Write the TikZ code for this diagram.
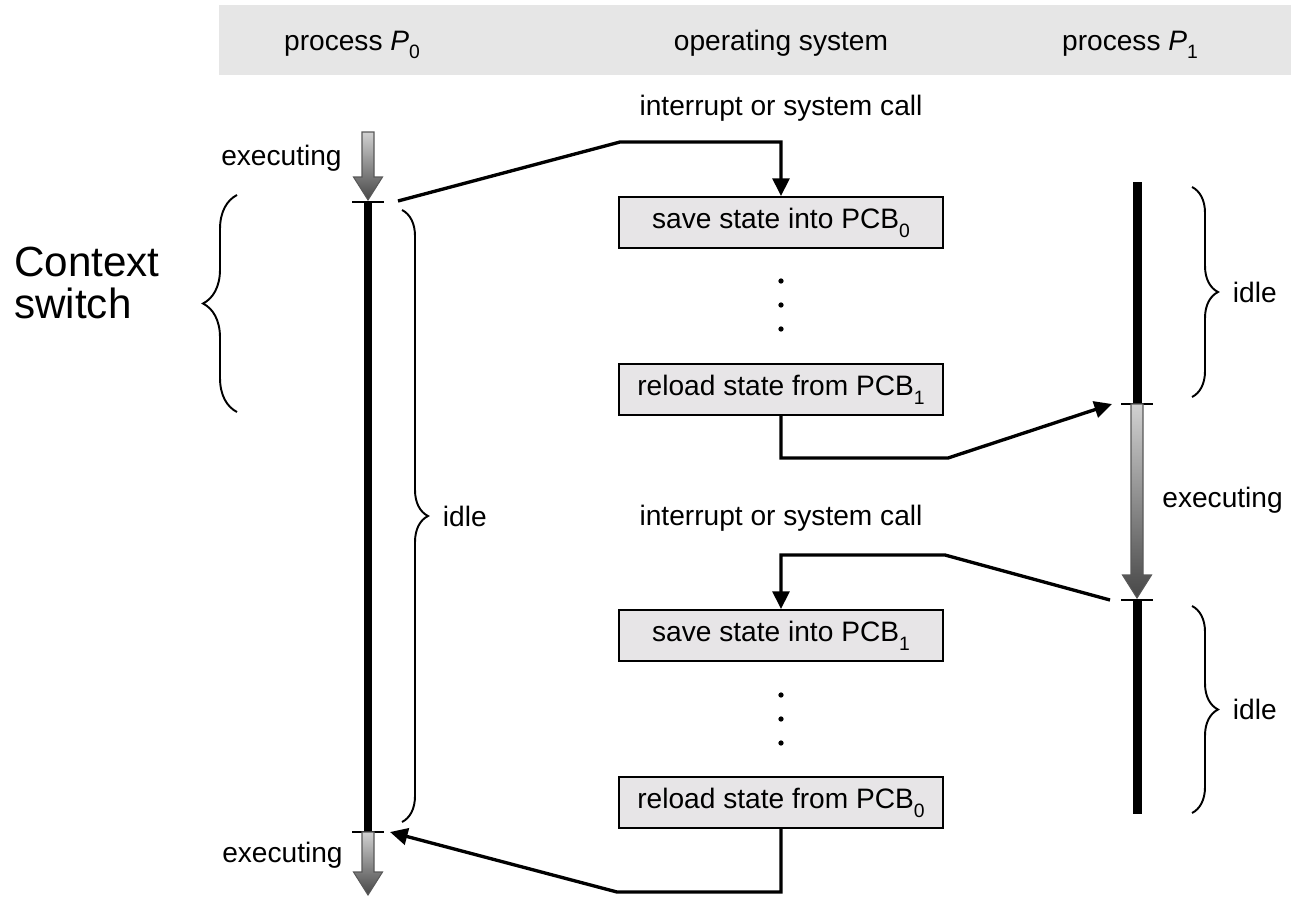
\documentclass[tikz,border=0pt]{standalone}
\usepackage{fontspec}
\setmainfont{Liberation Sans}
\usetikzlibrary{arrows.meta,
                decorations.pathreplacing,
                positioning}

\definecolor{bandgray}{RGB}{230,230,230}
\definecolor{boxgray}{RGB}{231,229,231}
\newcommand{\lowidx}[1]{\raisebox{-0.6ex}{\fontsize{11}{11}\selectfont #1}}

\begin{document}
\begin{tikzpicture}[
        x=0.2mm, y=-0.2mm,
        font=\fontsize{16}{19}\selectfont,
        state box/.style={
            rectangle,
            draw,
            line width=1.1pt,
            fill=boxgray,
            minimum width=64.8mm,
            minimum height=10.2mm,
            inner sep=0pt
        },
        link/.style={-{Triangle[length=10pt,width=9.5pt]},line width=1.9pt},
        idle bar/.style={line width=5.1pt},
        tickmark/.style={line width=1.2pt},
        run arrow/.style={
            top color=black!18,
            bottom color=black!72,
            draw=black!65,
            line width=0.6pt
        },
        curly/.style={
            decorate,
            decoration={brace,amplitude=#1},
            line width=1.1pt
        },
        txt/.style={inner sep=0pt}
    ]
    \useasboundingbox (0,0) rectangle (1291,896);

    % header band
    \fill[bandgray] (219,5) rectangle (1291,75);
    \node[txt,anchor=base] (hdrzero) at (352,50) {process \textit{P}\lowidx{0}};
    \node[txt,anchor=base] (hdros) at (781,50) {operating system};
    \node[txt,anchor=base] (hdrone) at (1130,50) {process \textit{P}\lowidx{1}};

    % time lines of the two processes
    \coordinate (p0top) at (368,202);
    \coordinate (p0bot) at (368,832);
    \coordinate (p1top) at (1137,182);
    \coordinate (p1run) at (1137,404);
    \coordinate (p1stop) at (1137,600);
    \coordinate (p1end) at (1137,814);

    \draw[idle bar] (p0top) -- (p0bot);
    \draw[idle bar] (p1top) -- (p1run);
    \draw[idle bar] (p1stop) -- (p1end);
    \foreach \c in {p0top,p0bot,p1run,p1stop}
        \draw[tickmark] ([xshift=-3.2mm]\c) -- ([xshift=3.2mm]\c);

    % executing arrows
    \foreach \x/\ya/\yb in {368/132/200,368/832/895,1137/404/598} {
        \shade[run arrow] (\x-6,\ya) -- (\x+6,\ya) -- (\x+6,\yb-23) -- (\x+14.5,\yb-23)
            -- (\x,\yb) -- (\x-14.5,\yb-23) -- (\x-6,\yb-23) -- cycle;
    }
    \node[txt,anchor=base east] (exzero) at (342,165) {executing};
    \node[txt,anchor=base east] (exzerob) at (343,862) {executing};
    \node[txt,anchor=base west] (exone) at (1162,507) {executing};

    % operating system boxes
    \node[state box] (save0) at (781,222.5) {save state into PCB\lowidx{0}};
    \node[state box] (reload1) at (781,389.5) {reload state from PCB\lowidx{1}};
    \node[state box] (save1) at (781,635.5) {save state into PCB\lowidx{1}};
    \node[state box] (reload0) at (781,802.5) {reload state from PCB\lowidx{0}};
    \foreach \y in {281,305,329,695,719,743}
        \fill (781,\y) circle (1.5pt);

    \node[txt,anchor=base] (irqtxt0) at (781,115) {interrupt or system call};
    \node[txt,anchor=base] (irqtxt1) at (781,525) {interrupt or system call};

    % switches
    \coordinate (irq0) at (398,201);
    \coordinate (run1) at (1112,404);
    \coordinate (irq1) at (1110,600);
    \coordinate (run0) at (390,832);
    \draw[link] (irq0) -- (620,142) -| (save0.north);
    \draw[link] (reload1.south) |- (948,458) -- (run1);
    \draw[link] (irq1) -- (945,555) -| (save1.north);
    \draw[link] (reload0.south) |- (617,892) -- (run0);

    % braces
    \draw[curly=6.8mm] (237,412) -- (237,195);
    \node[txt,anchor=west,align=left,font=\fontsize{24}{24}\selectfont] (ctx) at (14,283) {Context\\switch};
    \draw[curly=5.2mm] (402,210) -- (402,822) node[txt,midway,right=8mm] (idle0) {idle};
    \draw[curly=5.2mm] (1192,187) -- (1192,397) node[txt,midway,right=8mm] (idle1) {idle};
    \draw[curly=5.2mm] (1192,606) -- (1192,813) node[txt,midway,right=8mm] (idle2) {idle};
\end{tikzpicture}
\end{document}
